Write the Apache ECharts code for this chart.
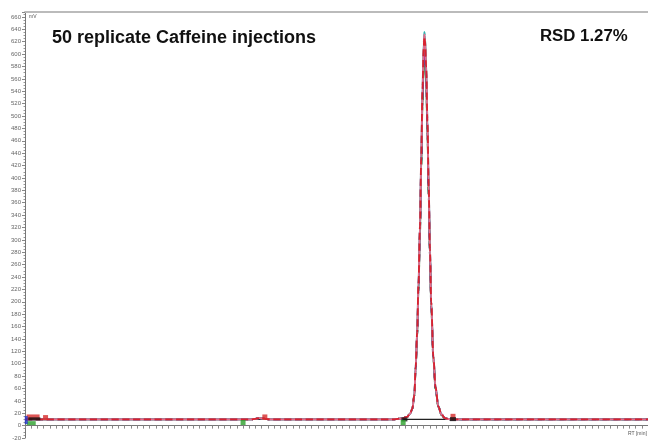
<!DOCTYPE html>
<html>
<head>
<meta charset="utf-8">
<script src="https://cdn.jsdelivr.net/npm/echarts@6/dist/echarts.min.js"></script>
<style>html,body{margin:0;padding:0;background:#fff}#c{width:648px;height:441px}</style>
</head>
<body>
<div id="c"></div>
<script>
// ---- data ----
var baseBefore = [[0.0, 10], [0.30, 10], [3.50, 10], [3.62, 10], [3.70, 11], [3.76, 12], [3.82, 11.5], [3.88, 10.5], [3.95, 10], [5.90, 10]];
var baseAfter = [[6.85, 10], [10.0, 10]];
var peakTimes = [5.93, 6.04, 6.13, 6.18, 6.215, 6.25, 6.27, 6.295, 6.315, 6.34, 6.36, 6.38, 6.40, 6.41, 6.42, 6.44, 6.46, 6.48, 6.50, 6.52, 6.555, 6.59, 6.635, 6.685, 6.74, 6.80];
var repCyan    = [10, 11.5, 14, 19, 27, 51, 96, 153, 229, 326, 437, 549, 619, 636, 630, 586, 496, 391, 289, 203, 113, 63, 32, 18, 12, 10.5];
var repRed     = [10, 11.5, 14, 19, 27, 50, 94, 151, 226, 322, 432, 542, 611, 628, 622, 579, 490, 386, 285, 200, 111, 62, 31, 18, 12, 10.5];
var repBlue    = [10, 11.5, 14, 19, 27, 49, 93, 149, 223, 318, 426, 535, 603, 620, 614, 571, 484, 381, 282, 198, 110, 61, 31, 18, 12, 10.5];
var repMagenta = [10, 11.5, 14, 19, 26, 48, 92, 147, 220, 314, 421, 528, 596, 612, 606, 564, 478, 376, 278, 195, 109, 60, 31, 18, 12, 10.5];
var repBlack   = [10, 11.5, 14, 19, 26, 48, 91, 145, 217, 310, 415, 521, 588, 604, 598, 557, 471, 371, 275, 193, 107, 59, 30, 17, 12, 10.5];
var repGreen   = [10, 11.5, 14, 19, 26, 47, 90, 143, 214, 306, 410, 515, 582, 598, 592, 551, 466, 367, 272, 191, 106, 58, 30, 17, 12, 10.5];
var repPink    = [10, 11.5, 14, 19, 27, 50, 95, 152, 227, 324, 434, 545, 615, 632, 626, 582, 493, 388, 287, 201, 112, 62, 31, 18, 12, 10.5];

// integration markers: [time, value]
var markRed   = [[0.13, 14], [0.33, 13], [3.85, 14], [6.87, 15]];
var markBlack = [[0.15, 11], [6.09, 10], [6.87, 10.5]];
var markGreen = [[0.10, 4], [3.50, 5], [6.07, 5]];
var markBlue  = [[0.02, 9]];
var intBase1 = [[3.50, 10], [3.85, 10]];
var intBase2 = [[6.07, 10], [6.87, 10]];

var titleText = '50 replicate Caffeine injections';
var rsdText = 'RSD 1.27%';

// ---- build ----
function trace(vals) {
  var pk = peakTimes.map(function (t, i) { return [t, vals[i]]; });
  return baseBefore.concat(pk, baseAfter);
}
var reps = [
  {d: repBlack, c: '#222222', t: 'dashed'},
  {d: repGreen, c: '#2e9e3a', t: 'solid'},
  {d: repMagenta, c: '#c0209a', t: 'solid'},
  {d: repBlue, c: '#3a44c0', t: 'dashed'},
  {d: repCyan, c: '#2fb3b0', t: 'solid'},
  {d: repPink, c: '#e86a8a', t: 'solid'},
  {d: repRed, c: '#d8232f', t: 'dashed'}
];
var series = reps.map(function (r) {
  return {
    type: 'line', data: trace(r.d), showSymbol: false, smooth: 0.35, smoothMonotone: 'x',
    lineStyle: {color: r.c, width: 1.8, type: r.t}, silent: true, animation: false, z: 3
  };
});
[intBase1, intBase2].forEach(function (b) {
  series.push({type: 'line', data: b, showSymbol: false, lineStyle: {color: '#222', width: 1.2}, animation: false, z: 2});
});
function marks(data, color, size) {
  return {type: 'scatter', data: data, symbol: 'rect', symbolSize: size, itemStyle: {color: color}, animation: false, z: 5};
}
series.push(marks(markRed, '#d42a2a', function (v) { return v[0] < 0.2 ? [13, 5] : [5, 5]; }));
series.push(marks(markBlack, '#111', function (v) { return v[0] < 0.2 ? [12, 3] : [6, 4]; }));
series.push(marks(markGreen, '#2aa02a', function (v) { return v[0] < 0.2 ? [9, 4] : [5, 5]; }));
series.push(marks(markBlue, '#2233cc', [3, 8]));

var chart = echarts.init(document.getElementById('c'), null, {renderer: 'canvas'});
chart.setOption({
  animation: false,
  backgroundColor: '#fff',
  grid: {left: 25, right: 0, top: 12, bottom: 3},
  title: [
    {text: titleText, left: 52, top: 29, padding: 0, textStyle: {fontFamily: 'Liberation Sans', fontSize: 18, fontWeight: 'bold', color: '#111'}},
    {text: rsdText, left: 540, top: 28, padding: 0, textStyle: {fontFamily: 'Liberation Sans', fontSize: 16.8, fontWeight: 'bold', color: '#111'}},
    {text: 'mV', left: 29, top: 14, padding: 0, textStyle: {fontFamily: 'Liberation Sans', fontSize: 5, fontWeight: 'normal', color: '#555'}},
    {text: 'RT [min]', left: 628, top: 431, padding: 0, textStyle: {fontFamily: 'Liberation Sans', fontSize: 5, fontWeight: 'normal', color: '#555'}}
  ],
  xAxis: [
    {type: 'value', min: 0, max: 10, interval: 0.1, position: 'bottom',
     axisLine: {lineStyle: {color: '#777', width: 1}},
     axisTick: {show: true, length: 3, lineStyle: {color: '#888'}},
     axisLabel: {show: false}, splitLine: {show: false}},
    {type: 'value', min: 0, max: 10, position: 'top',
     axisLine: {lineStyle: {color: '#bbbbbb', width: 2}},
     axisTick: {show: false}, axisLabel: {show: false}, splitLine: {show: false}}
  ],
  yAxis: {
    type: 'value', min: -20, max: 668, interval: 20,
    axisLine: {show: true, lineStyle: {color: '#777'}},
    axisTick: {show: true, length: 3, lineStyle: {color: '#888'}},
    minorTick: {show: true, splitNumber: 4, length: 1.5, lineStyle: {color: '#999'}},
    axisLabel: {fontSize: 6, color: '#666', margin: 4, fontFamily: 'Liberation Sans', showMaxLabel: false,
      formatter: function (v) { return (v % 20 === 0) ? String(v) : ''; }},
    splitLine: {show: false}
  },
  series: series
});
</script>
</body>
</html>
